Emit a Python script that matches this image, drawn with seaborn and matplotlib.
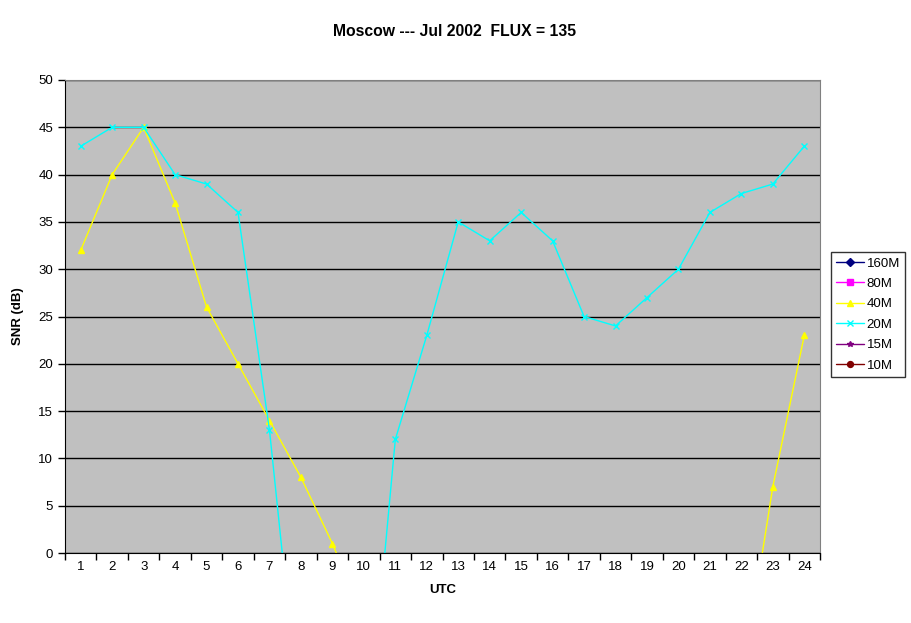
import numpy as np
import pandas as pd
import matplotlib
matplotlib.use('Agg')
import matplotlib.pyplot as plt
import seaborn as sns

# Datos (valores por debajo de 0 quedan fuera del eje)
utc = list(range(1, 25))
bandas = ["160M", "80M", "40M", "20M", "15M", "10M"]
snr_160 = [-30] * 24
snr_80 = [-30] * 24
snr_40 = [32, 40, 45, 37, 26, 20, 14, 8, 1, -7, -10, -10, -10, -10, -10, -10,
          -10, -10, -10, -10, -10, -14, 7, 23]
snr_20 = [43, 45, 45, 40, 39, 36, 13, -19, -25, -24, 12, 23, 35, 33, 36, 33,
          25, 24, 27, 30, 36, 38, 39, 43]
snr_15 = [-30] * 24
snr_10 = [-30] * 24

colores = {"160M": "#000080", "80M": "#FF00FF", "40M": "#FFFF00",
           "20M": "#00FFFF", "15M": "#800080", "10M": "#800000"}
marcadores = {"160M": "D", "80M": "s", "40M": "^", "20M": "x", "15M": "*", "10M": "o"}

df = pd.DataFrame({
    "UTC": utc * 6,
    "SNR": snr_160 + snr_80 + snr_40 + snr_20 + snr_15 + snr_10,
    "Banda": sum([[b] * 24 for b in bandas], []),
})

sns.set_style("white")
plt.rcParams['font.family'] = ['Liberation Sans', 'DejaVu Sans']
plt.rcParams['text.color'] = 'black'
plt.rcParams['axes.labelcolor'] = 'black'
plt.rcParams['xtick.color'] = 'black'
plt.rcParams['ytick.color'] = 'black'

fig = plt.figure(figsize=(9.11, 6.23), dpi=100)
ax = fig.add_axes([65 / 911, 1 - 553 / 623, 755 / 911, 473 / 623])
ax.set_facecolor("#C0C0C0")

# Una linea por banda (seaborn no mezcla marcadores rellenos y de linea)
for b in bandas:
    sub = df[df["Banda"] == b]
    sns.lineplot(data=sub, x="UTC", y="SNR", color=colores[b], marker=marcadores[b],
                 markeredgecolor=colores[b], markersize=5, markeredgewidth=1,
                 linewidth=1, label=b, ax=ax)

ax.set_xlim(0.5, 24.5)
ax.set_ylim(0, 50)
ax.set_yticks(range(0, 51, 5))
ax.set_xticks(np.arange(0.5, 25, 1))
ax.set_xticklabels([])
ax.set_xticks(utc, minor=True)
ax.set_xticklabels([str(u) for u in utc], minor=True)
ax.tick_params(axis='x', which='minor', length=0, labelsize=9.5, pad=6)
ax.tick_params(axis='x', which='major', length=5, width=1, direction='out', bottom=True)
ax.tick_params(axis='y', length=5, width=1, direction='out', left=True, labelsize=9.5)
ax.yaxis.grid(True, color='black', linewidth=1)
ax.xaxis.grid(False)
ax.set_axisbelow(True)

for lado in ['top', 'right']:
    ax.spines[lado].set_color('#808080')
for lado in ['left', 'bottom']:
    ax.spines[lado].set_color('black')

ax.set_xlabel("UTC", fontsize=9.5, fontweight='bold', labelpad=8)
ax.set_ylabel("SNR (dB)", fontsize=9.5, fontweight='bold', labelpad=10)
fig.suptitle("Moscow --- Jul 2002  FLUX = 135", fontsize=11.3, fontweight='bold',
             x=455 / 911, y=1 - 31 / 623, va='center')

leg = ax.legend(loc='upper left', bbox_to_anchor=(831 / 911, 1 - 252 / 623),
                bbox_transform=fig.transFigure, fontsize=9.5, frameon=True,
                fancybox=False, edgecolor='black', borderaxespad=0,
                handlelength=2.1, labelspacing=0.62, borderpad=0.4,
                handletextpad=0.2, markerscale=0.85)
leg.get_frame().set_linewidth(1)

plt.savefig("out.png", dpi=100)
